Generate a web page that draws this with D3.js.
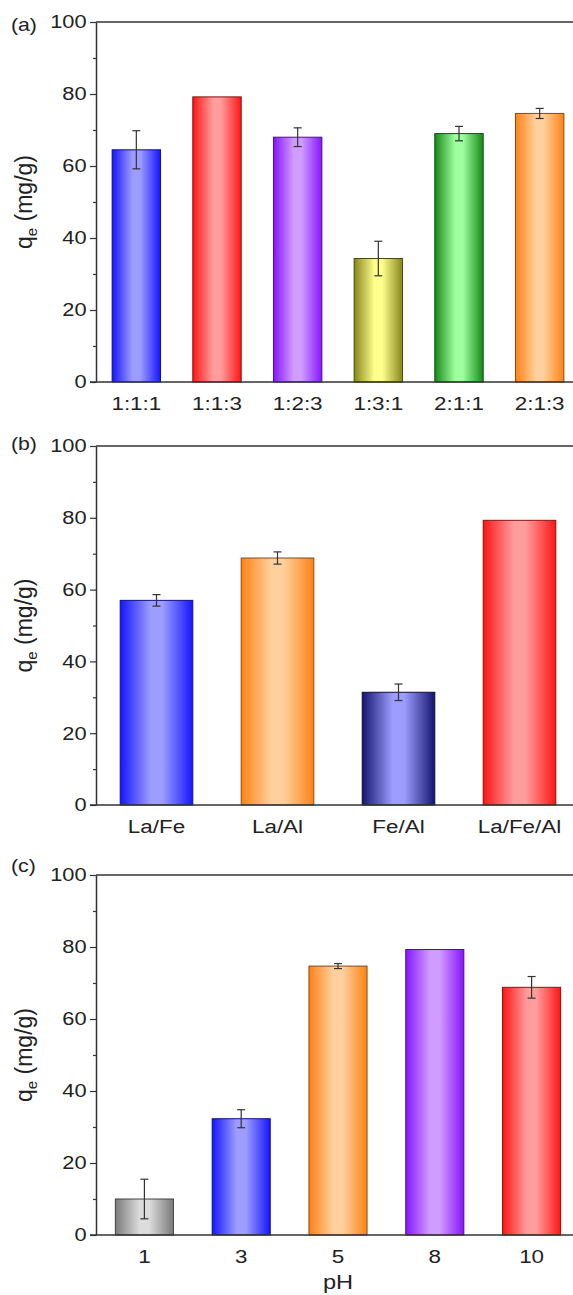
<!DOCTYPE html>
<html>
<head>
<meta charset="utf-8">
<script src="https://cdn.jsdelivr.net/npm/d3@7"></script>
<style>
  body { margin: 0; background: #fff; }
  text { font-family: Arial, "Liberation Sans", sans-serif; fill: #222; }
</style>
</head>
<body>
<svg width="573" height="1295"></svg>
<script>
// panel (a) - molar ratio
var catsA = ["1:1:1", "1:1:3", "1:2:3", "1:3:1", "2:1:1", "2:1:3"];
var valsA = [64.5, 79.2, 68.0, 34.3, 69.0, 74.6];
var errA = [5.3, 0, 2.6, 4.8, 2.0, 1.4];
var colA = ["blue", "red", "purple", "olive", "green", "orange"];

// panel (b) - composition
var catsB = ["La/Fe", "La/Al", "Fe/Al", "La/Fe/Al"];
var valsB = [57.0, 68.8, 31.4, 79.3];
var errB = [1.6, 1.7, 2.3, 0];
var colB = ["blue", "orange", "navy", "red"];

// panel (c) - pH
var catsC = ["1", "3", "5", "8", "10"];
var valsC = [10.0, 32.3, 74.7, 79.3, 68.8];
var errC = [5.5, 2.5, 0.7, 0, 3.0];
var colC = ["gray", "blue", "orange", "purple", "red"];

var majorTicks = [0, 20, 40, 60, 80, 100];
var minorTicks = [10, 30, 50, 70, 90];

// gradient colours: edge / middle / outline
var palette = {
    blue:   ["#1515ff", "#9d9dff", "#10108a"],
    red:    ["#ff1515", "#ff9d9d", "#8a1010"],
    purple: ["#8615ff", "#d09dff", "#4a108a"],
    olive:  ["#86861c", "#ffff8e", "#4a4a10"],
    green:  ["#188818", "#9dff9d", "#105010"],
    orange: ["#ff8215", "#ffd09d", "#8a4a10"],
    navy:   ["#141470", "#9d9dff", "#0a0a40"],
    gray:   ["#7a7a7a", "#dcdcdc", "#404040"]
};

var svg = d3.select("svg");
var defs = svg.append("defs");
Object.keys(palette).forEach(function(k) {
    var g = defs.append("linearGradient").attr("id", "grad-" + k)
        .attr("x1", "0%").attr("x2", "100%").attr("y1", "0%").attr("y2", "0%");
    g.append("stop").attr("offset", "0%").attr("stop-color", palette[k][0]);
    g.append("stop").attr("offset", "42%").attr("stop-color", palette[k][1]);
    g.append("stop").attr("offset", "58%").attr("stop-color", palette[k][1]);
    g.append("stop").attr("offset", "100%").attr("stop-color", palette[k][0]);
});

var left = 96, right = 580;
var stretch = 1.18; // the original figure's lettering is a bit wide

function panel(tag, tagY, cats, vals, errs, cols, top, bottom, xTitle) {
    var x = d3.scaleBand().domain(cats).range([left, right]).paddingInner(0.4).paddingOuter(0.2);
    var y = d3.scaleLinear().domain([0, 100]).range([bottom, top]);

    // top frame line
    svg.append("line")
        .attr("x1", left).attr("x2", right)
        .attr("y1", y(100)).attr("y2", y(100))
        .attr("stroke", "#333").attr("stroke-width", 1.5);

    // bars
    svg.append("g").selectAll("rect")
        .data(vals)
        .enter().append("rect")
        .attr("x", function(d, i) { return x(cats[i]); })
        .attr("y", function(d) { return y(d); })
        .attr("width", x.bandwidth())
        .attr("height", function(d) { return y(0) - y(d); })
        .attr("fill", function(d, i) { return "url(#grad-" + cols[i] + ")"; })
        .attr("stroke", function(d, i) { return palette[cols[i]][2]; })
        .attr("stroke-width", 1);

    // error bars
    var eb = svg.append("g").attr("stroke", "#333").attr("stroke-width", 1.2);
    vals.forEach(function(v, i) {
        if (!errs[i]) return;
        var cx = x(cats[i]) + x.bandwidth() / 2;
        eb.append("line").attr("x1", cx).attr("x2", cx)
            .attr("y1", y(v + errs[i])).attr("y2", y(v - errs[i]));
        [v + errs[i], v - errs[i]].forEach(function(e) {
            eb.append("line").attr("x1", cx - 4).attr("x2", cx + 4)
                .attr("y1", y(e)).attr("y2", y(e));
        });
    });

    // minor ticks
    var minor = svg.append("g")
        .attr("transform", "translate(" + left + ",0)")
        .call(d3.axisLeft(y).tickValues(minorTicks).tickSize(3).tickFormat(""));
    minor.select(".domain").remove();
    minor.selectAll("line").attr("stroke", "#333").attr("stroke-width", 1.2);

    // left axis
    var ay = svg.append("g")
        .attr("transform", "translate(" + left + ",0)")
        .call(d3.axisLeft(y).tickValues(majorTicks).tickSize(6).tickSizeOuter(0).tickPadding(2));
    ay.select(".domain").attr("stroke", "#333").attr("stroke-width", 1.5);
    ay.selectAll("line").attr("stroke", "#333").attr("stroke-width", 1.2);
    ay.selectAll("text")
        .attr("font-size", "18.5px")
        .attr("font-family", "Arial, 'Liberation Sans', sans-serif")
        .attr("fill", "#222")
        .attr("transform", "scale(" + stretch + ",1)");

    // bottom axis
    var ax = svg.append("g")
        .attr("transform", "translate(0," + bottom + ")")
        .call(d3.axisBottom(x).tickSize(0).tickSizeOuter(0));
    ax.select(".domain").attr("stroke", "#333").attr("stroke-width", 1.5)
        .attr("d", "M" + (left - 6) + ",0H" + right);
    ax.selectAll("text")
        .attr("y", 28).attr("dy", null)
        .attr("font-size", "19px")
        .attr("font-family", "Arial, 'Liberation Sans', sans-serif")
        .attr("fill", "#222")
        .attr("transform", "scale(" + stretch + ",1)");

    // panel tag
    svg.append("text")
        .attr("transform", "translate(11," + tagY + ") scale(" + stretch + ",1)")
        .attr("font-size", "18px")
        .text(tag);

    // y title
    var yt = svg.append("text")
        .attr("transform", "translate(32," + ((top + bottom) / 2) + ") rotate(-90)")
        .attr("text-anchor", "middle")
        .attr("font-size", "23px");
    yt.append("tspan").text("q");
    yt.append("tspan").attr("font-size", "15px").attr("dy", 5).text("e");
    yt.append("tspan").attr("dy", -5).text(" (mg/g)");

    if (xTitle) {
        svg.append("text")
            .attr("transform", "translate(338," + (bottom + 54) + ") scale(" + stretch + ",1)")
            .attr("text-anchor", "middle")
            .attr("font-size", "20px")
            .text(xTitle);
    }
}

panel("(a)", 31, catsA, valsA, errA, colA, 22, 382);
panel("(b)", 450, catsB, valsB, errB, colB, 446, 805);
panel("(c)", 872, catsC, valsC, errC, colC, 875, 1235, "pH");
</script>
</body>
</html>
